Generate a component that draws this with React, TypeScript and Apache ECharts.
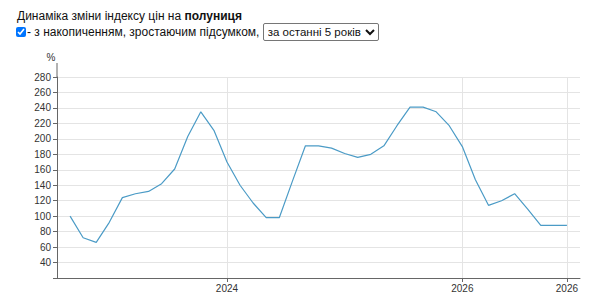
import React, { useEffect, useRef } from "react";
import * as echarts from "echarts";

// Values of the index (%), one per period
const values: number[] = [
  100, 72, 66, 92, 124, 129, 132, 142, 161, 203, 235, 211, 170,
  140, 117, 98, 98, 145, 191, 191, 188, 181, 176, 180, 191, 217,
  241, 241, 235, 217, 190, 147, 114, 120, 129, 109, 88, 88, 88,
];
// Periods (index into values) that carry an x-axis label
const tickPositions: number[] = [12, 30, 38];
const tickLabels: string[] = ["2024", "2026", "2026"];

const yMin = 20;
const yMax = 280;
const yStep = 20;

export default function App() {
  const ref = useRef<HTMLDivElement>(null);

  useEffect(() => {
    if (!ref.current) return;
    const chart = echarts.init(ref.current, null, { renderer: "svg" });
    // one padding category before and after the data
    const cats = Array.from({ length: values.length + 2 }, (_, i) => "p" + (i - 1));
    const data = [null, ...values, null];
    const isTick = (index: number) => tickPositions.includes(index - 1);
    chart.setOption({
      animation: false,
      grid: { left: 57, right: 20, top: 77, bottom: 28, containLabel: false },
      xAxis: {
        type: "category",
        data: cats,
        boundaryGap: false,
        axisLine: { show: true, lineStyle: { color: "#666", width: 1 } },
        axisTick: {
          show: true,
          length: 4,
          interval: (index: number) => isTick(index),
          lineStyle: { color: "#666" },
        },
        axisLabel: {
          interval: (index: number) => isTick(index),
          formatter: (_v: string, index: number) => {
            const k = tickPositions.indexOf(index - 1);
            return k >= 0 ? tickLabels[k] : "";
          },
          color: "#333",
          fontSize: 10,
          fontFamily: "Arial, Liberation Sans, sans-serif",
          margin: 5,
        },
        splitLine: {
          show: true,
          interval: (index: number) => isTick(index),
          lineStyle: { color: "#e4e4e4", width: 1 },
        },
      },
      yAxis: {
        type: "value",
        min: yMin,
        max: yMax,
        interval: yStep,
        axisLine: { show: true, lineStyle: { color: "#666", width: 1 } },
        axisTick: { show: true, length: 4, lineStyle: { color: "#666" } },
        axisLabel: {
          formatter: (v: number) => (v === yMin ? "" : String(v)),
          color: "#333",
          fontSize: 10,
          fontFamily: "Arial, Liberation Sans, sans-serif",
          margin: 6,
        },
        splitLine: { show: true, lineStyle: { color: "#e4e4e4", width: 1 } },
      },
      graphic: [
        {
          type: "line",
          shape: { x1: 57, y1: 63, x2: 57, y2: 77 },
          style: { stroke: "#666", lineWidth: 1 },
          silent: true,
        },
        {
          type: "text",
          x: 51,
          y: 57,
          style: {
            text: "%",
            fill: "#333",
            fontSize: 10,
            fontFamily: "Arial, Liberation Sans, sans-serif",
            align: "center",
            verticalAlign: "middle",
          },
        },
      ],
      series: [
        {
          type: "line",
          data,
          showSymbol: false,
          symbol: "none",
          connectNulls: false,
          lineStyle: { color: "#4b9bc6", width: 1.2 },
          itemStyle: { color: "#4b9bc6" },
        },
      ],
    });
    return () => chart.dispose();
  }, []);

  return (
    <div style={{ position: "fixed", left: 0, top: 0, width: 600, height: 306, background: "#fff", fontFamily: "Arial, 'Liberation Sans', sans-serif" }}>
      <div ref={ref} style={{ position: "absolute", left: 0, top: 0, width: 600, height: 306 }} />
      <div style={{ position: "absolute", left: 17, top: 9, fontSize: 12, color: "#111", lineHeight: "15px", whiteSpace: "nowrap" }}>
        Динаміка зміни індексу цін на <b>полуниця</b>
      </div>
      <div style={{ position: "absolute", left: 16, top: 23, fontSize: 12, color: "#111", display: "flex", alignItems: "center", whiteSpace: "nowrap", height: 18 }}>
        <input type="checkbox" defaultChecked style={{ width: 10, height: 10, margin: "0 1px 0 0" }} />
        <span>- з накопиченням, зростаючим підсумком,&nbsp;</span>
        <select defaultValue="5" style={{ fontSize: 11.5, fontFamily: "Arial, 'Liberation Sans', sans-serif", height: 18, padding: "0", border: "1px solid #767676", borderRadius: 2, background: "#fff", color: "#111" }}>
          <option value="5">за останні 5 років</option>
        </select>
      </div>
    </div>
  );
}
